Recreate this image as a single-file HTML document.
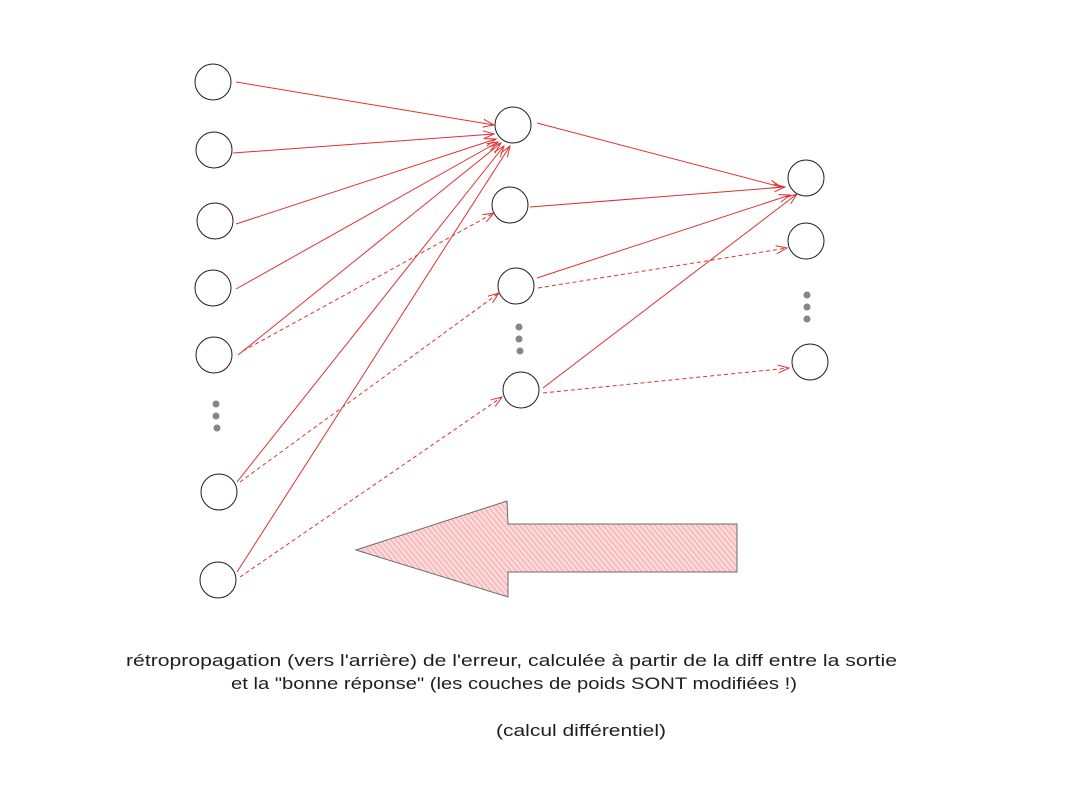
<!DOCTYPE html>
<html><head><meta charset="utf-8"><style>html,body{margin:0;padding:0;background:#fff}</style></head>
<body>
<svg width="1070" height="796" viewBox="0 0 1070 796" xmlns="http://www.w3.org/2000/svg">
<defs>
<marker id="ah" markerWidth="12" markerHeight="10" refX="11" refY="5" orient="auto" markerUnits="userSpaceOnUse">
<path d="M0,1 L11,5 L0,9" fill="none" stroke="#e03131" stroke-width="1"/>
</marker>
<pattern id="hatch" width="4" height="4" patternUnits="userSpaceOnUse" patternTransform="rotate(-40)">
<rect width="4" height="4" fill="#fbd9d9"/>
<line x1="0" y1="0" x2="0" y2="4" stroke="#f08a8a" stroke-width="1.2"/>
</pattern>
</defs>
<rect width="1070" height="796" fill="#fff"/>
<g fill="none" stroke="#1e1e1e" stroke-width="1">
<circle cx="213" cy="82" r="18"/><circle cx="214" cy="150" r="18"/><circle cx="215" cy="221" r="18"/>
<circle cx="213" cy="288" r="18"/><circle cx="214" cy="355" r="18"/><circle cx="219" cy="492" r="18"/>
<circle cx="218" cy="580" r="18"/>
<circle cx="513" cy="125" r="18"/><circle cx="510" cy="205" r="18"/><circle cx="516" cy="286" r="18"/>
<circle cx="521" cy="390" r="18"/>
<circle cx="806" cy="178" r="18"/><circle cx="806" cy="241" r="18"/><circle cx="810" cy="362" r="18"/>
</g>
<g fill="#868686">
<circle cx="216" cy="404" r="3.5"/><circle cx="216" cy="416" r="3.5"/><circle cx="217" cy="428" r="3.5"/>
<circle cx="519" cy="327" r="3.5"/><circle cx="519" cy="339" r="3.5"/><circle cx="520" cy="351" r="3.5"/>
<circle cx="807" cy="295" r="3.5"/><circle cx="807" cy="307" r="3.5"/><circle cx="807" cy="319" r="3.5"/>
</g>
<g stroke="#e03131" stroke-width="1" fill="none" marker-end="url(#ah)">
<line x1="236" y1="82" x2="494" y2="125"/>
<line x1="233" y1="153" x2="494" y2="134"/>
<line x1="236" y1="224" x2="496" y2="139"/>
<line x1="236" y1="289" x2="498" y2="142"/>
<line x1="238" y1="355" x2="501" y2="143"/>
<line x1="237" y1="482" x2="504" y2="146"/>
<line x1="237" y1="572" x2="510" y2="146"/>
<line x1="537" y1="123" x2="781" y2="187"/>
<line x1="530" y1="207" x2="785" y2="187"/>
<line x1="537" y1="278" x2="790" y2="195"/>
<line x1="543" y1="388" x2="797" y2="194"/>
</g>
<g stroke="#e03131" stroke-width="1" fill="none" stroke-dasharray="4 3" marker-end="url(#ah)">
<line x1="243" y1="351" x2="494" y2="213"/>
<line x1="240" y1="482" x2="499" y2="293"/>
<line x1="240" y1="577" x2="502" y2="397"/>
<line x1="538" y1="288" x2="787" y2="248"/>
<line x1="543" y1="393" x2="789" y2="368"/>
</g>
<polygon points="356,550 507,501 508,524 737,524 737,572 508,572 508,597" fill="url(#hatch)" stroke="#6b6b6b" stroke-width="1"/>
<g font-family="Liberation Sans, sans-serif" font-size="17" fill="#1e1e1e">
<text x="126" y="666" textLength="771" lengthAdjust="spacingAndGlyphs">rétropropagation (vers l'arrière) de l'erreur, calculée à partir de la diff entre la sortie</text>
<text x="231" y="689" textLength="566" lengthAdjust="spacingAndGlyphs">et la "bonne réponse" (les couches de poids SONT modifiées !)</text>
<text x="496" y="736" textLength="170" lengthAdjust="spacingAndGlyphs">(calcul différentiel)</text>
</g>
</svg>
</body></html>
